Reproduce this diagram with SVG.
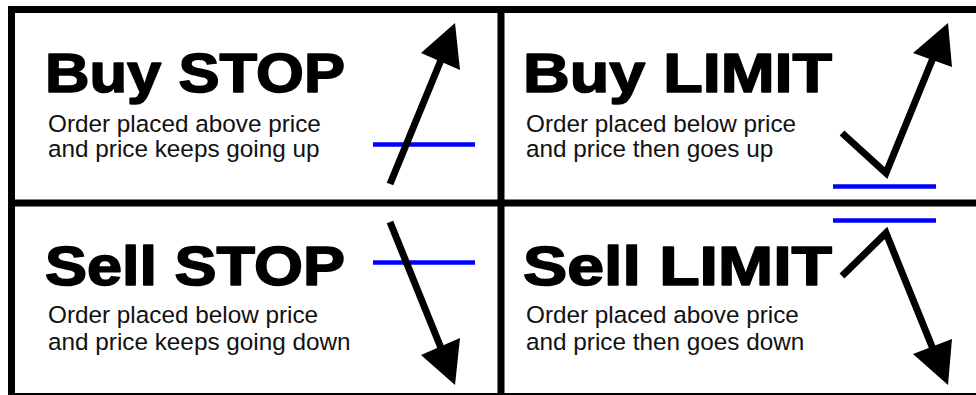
<svg xmlns="http://www.w3.org/2000/svg" width="976" height="395" viewBox="0 0 976 395">
<style>
.frame{fill:none;stroke:#000;stroke-width:7}
.title{font-family:"Liberation Sans",Arial,sans-serif;font-weight:bold;font-size:56px;fill:#000;stroke:#000;stroke-width:1.6px;stroke-linejoin:round}
.sub{font-family:"Liberation Sans",Arial,sans-serif;font-size:24.3px;fill:#111}
.level{stroke:#0000ff;stroke-width:4.5;fill:none}
.price{stroke:#000;stroke-width:7;fill:none;stroke-linejoin:miter;stroke-linecap:butt}
.head{fill:#000}
</style>
<rect width="976" height="395" fill="#fff"/>
<g id="frame">
<rect class="frame" x="11.5" y="9.5" width="990" height="387"/>
<line class="frame" x1="501" y1="9.5" x2="501" y2="396"/>
<line class="frame" x1="11.5" y1="203" x2="990" y2="203"/>
</g>
<g id="buy-stop">
<text class="title" x="45" y="92" textLength="300" lengthAdjust="spacingAndGlyphs">Buy STOP</text>
<text class="sub" x="48" y="132">Order placed above price</text>
<text class="sub" x="48" y="157">and price keeps going up</text>
<line class="level" x1="373" y1="144.5" x2="475" y2="144.5"/>
</g>
<g id="buy-limit">
<text class="title" x="523" y="92" textLength="309" lengthAdjust="spacingAndGlyphs">Buy LIMIT</text>
<text class="sub" x="526" y="132">Order placed below price</text>
<text class="sub" x="526" y="157">and price then goes up</text>
<line class="level" x1="833" y1="186.5" x2="936" y2="186.5"/>
</g>
<g id="sell-stop">
<text class="title" x="45" y="285" textLength="300" lengthAdjust="spacingAndGlyphs">Sell STOP</text>
<text class="sub" x="48" y="323">Order placed below price</text>
<text class="sub" x="48" y="350">and price keeps going down</text>
<line class="level" x1="373" y1="262.5" x2="475" y2="262.5"/>
</g>
<g id="sell-limit">
<text class="title" x="523" y="285" textLength="309" lengthAdjust="spacingAndGlyphs">Sell LIMIT</text>
<text class="sub" x="526" y="323">Order placed above price</text>
<text class="sub" x="526" y="350">and price then goes down</text>
<line class="level" x1="833" y1="220.5" x2="936" y2="220.5"/>
</g>
<g id="connectors">
<line class="price" x1="390" y1="184" x2="441" y2="60"/>
<polygon class="head" points="455,23 421,53 460,70"/>
<polyline class="price" points="842,133 886,173 933,58"/>
<polygon class="head" points="948,23 913,53 952,67"/>
<line class="price" x1="390" y1="222" x2="441" y2="348"/>
<polygon class="head" points="455,385 421,355 460,338"/>
<polyline class="price" points="842,276 886,233 933,349"/>
<polygon class="head" points="948,385 913,354 952,339"/>
</g>
</svg>
